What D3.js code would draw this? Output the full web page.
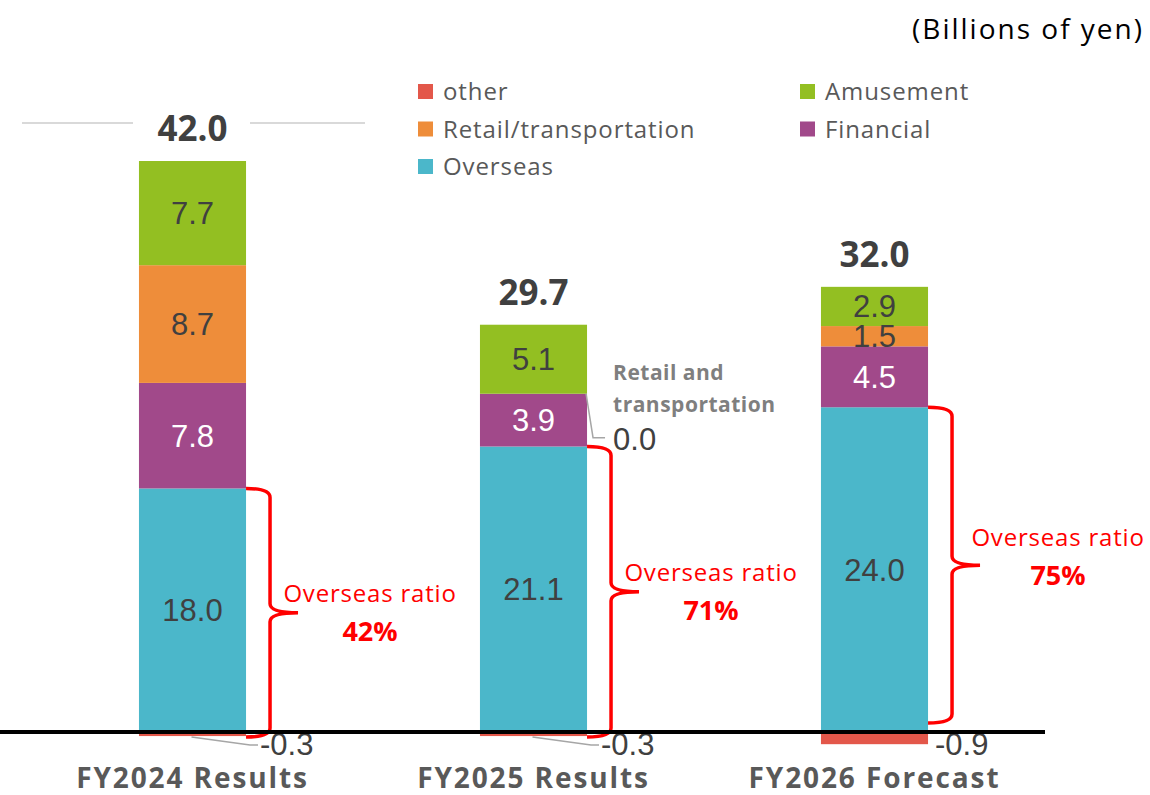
<!DOCTYPE html>
<html>
<head>
<meta charset="utf-8">
<script src="https://cdn.jsdelivr.net/npm/d3@7"></script>
<style>
  html, body { margin: 0; padding: 0; background: #fff; }
  svg { display: block; }
</style>
</head>
<body>
<svg id="chart" width="1150" height="795"></svg>
<script>
// data (billions of yen)
const categories = ["FY2024 Results", "FY2025 Results", "FY2026 Forecast"];
const overseas = [18.0, 21.1, 24.0];
const financial = [7.8, 3.9, 4.5];
const retail = [8.7, 0.0, 1.5];
const amusement = [7.7, 5.1, 2.9];
const other = [-0.3, -0.3, -0.9];
const totals = ["42.0", "29.7", "32.0"];
const ratios = ["42%", "71%", "75%"];

const seriesKeys = ["overseas", "financial", "retail", "amusement", "other"];
const seriesNames = {
    other: "other", retail: "Retail/transportation", overseas: "Overseas",
    amusement: "Amusement", financial: "Financial"
};
const colors = {
    overseas: "#4BB7CA", financial: "#A1498A", retail: "#EE8D3A",
    amusement: "#93BF22", other: "#E3574A"
};

const CALIBRI = "'Open Sans', 'Noto Sans', sans-serif";
const ARIAL = "'Liberation Sans', Arial, sans-serif";

const rows = categories.map((c, i) => ({
    cat: c, overseas: overseas[i], financial: financial[i], retail: retail[i],
    amusement: amusement[i], other: other[i]
}));

const svg = d3.select("#chart");

const x = d3.scaleBand()
    .domain(categories)
    .range([22, 1045])
    .paddingInner(0.686)
    .paddingOuter(0.343);

const y = d3.scaleLinear()
    .domain([0, 42.2])
    .range([732, 161]);

const stack = d3.stack()
    .keys(seriesKeys)
    .offset(d3.stackOffsetDiverging);
const stacked = stack(rows);

// bars
const layers = svg.append("g").selectAll("g")
    .data(stacked)
    .join("g")
    .attr("fill", d => colors[d.key]);

layers.selectAll("rect")
    .data(d => d.map(v => ({ key: d.key, v0: v[0], v1: v[1], cat: v.data.cat })))
    .join("rect")
    .attr("x", d => x(d.cat))
    .attr("width", x.bandwidth())
    .attr("y", d => y(Math.max(d.v0, d.v1)))
    .attr("height", d => Math.abs(y(d.v0) - y(d.v1)));

// labels inside the bars
stacked.forEach(layer => {
    if (layer.key === "other") return;
    layer.forEach((v, i) => {
        const val = v[1] - v[0];
        if (val <= 0) return;
        svg.append("text")
            .attr("x", x(categories[i]) + x.bandwidth() / 2)
            .attr("y", (y(v[0]) + y(v[1])) / 2 + 11)
            .attr("text-anchor", "middle")
            .attr("font-family", ARIAL)
            .attr("font-size", 31)
            .attr("fill", layer.key === "financial" ? "#ffffff" : "#404040")
            .text(val.toFixed(1));
    });
});

// negative "other" labels with leader lines
other.forEach((v, i) => {
    const bx = x(categories[i]);
    const bw = x.bandwidth();
    if (i < 2) {
        svg.append("polyline")
            .attr("points", `${bx + bw / 2 - 1},${y(v) + 1} ${bx + bw + 4},${y(v) + 9} ${bx + bw + 12},${y(v) + 9}`)
            .attr("fill", "none")
            .attr("stroke", "#a6a6a6")
            .attr("stroke-width", 1.5);
    }
    svg.append("text")
        .attr("x", bx + bw + (i < 2 ? 14 : 7))
        .attr("y", 755)
        .attr("font-family", ARIAL)
        .attr("font-size", 31)
        .attr("fill", "#404040")
        .text(v.toFixed(1));
});

// FY2025 retail = 0.0 callout
{
    const bx = x(categories[1]) + x.bandwidth();
    const yTop = y(overseas[1] + financial[1]);
    svg.append("polyline")
        .attr("points", `${bx - 1},${yTop} ${bx + 6},${yTop + 44} ${bx + 18},${yTop + 44}`)
        .attr("fill", "none")
        .attr("stroke", "#a6a6a6")
        .attr("stroke-width", 1.5);
    svg.append("text")
        .attr("x", bx + 26)
        .attr("y", yTop + 56)
        .attr("font-family", ARIAL)
        .attr("font-size", 31)
        .attr("fill", "#404040")
        .text(retail[1].toFixed(1));
    const note = svg.append("text")
        .attr("font-family", CALIBRI)
        .attr("font-weight", "bold")
        .attr("font-size", 21)
        .attr("letter-spacing", 0.5)
        .attr("fill", "#7f7f7f");
    note.append("tspan").attr("x", bx + 26).attr("y", 380).text("Retail and");
    note.append("tspan").attr("x", bx + 26).attr("y", 412).text("transportation");
}

// totals above bars
totals.forEach((t, i) => {
    const top = y(overseas[i] + financial[i] + retail[i] + amusement[i]);
    svg.append("text")
        .attr("x", x(categories[i]) + x.bandwidth() / 2)
        .attr("y", top - 20)
        .attr("text-anchor", "middle")
        .attr("font-family", CALIBRI)
        .attr("font-weight", "bold")
        .attr("font-size", 35)
        .attr("fill", "#404040")
        .text(t);
});

// the faint rules either side of the first total
svg.append("line").attr("x1", 22).attr("x2", 133).attr("y1", 123).attr("y2", 123)
    .attr("stroke", "#d9d9d9").attr("stroke-width", 2);
svg.append("line").attr("x1", 250).attr("x2", 365).attr("y1", 123).attr("y2", 123)
    .attr("stroke", "#d9d9d9").attr("stroke-width", 2);

// overseas ratio braces
const braceBottom = [y(0) + 5, y(0) + 5, y(0) - 9];
const labelShift = [0, 0, -8];
ratios.forEach((r, i) => {
    const x0 = x(categories[i]) + x.bandwidth();
    const xv = x0 + 24;
    const tip = xv + 28;
    const top = y(overseas[i]);
    const bot = braceBottom[i];
    const mid = (top + bot) / 2;
    const k = 9;
    const p = d3.path();
    p.moveTo(x0, top);
    p.quadraticCurveTo(xv, top, xv, top + k);
    p.lineTo(xv, mid - k);
    p.quadraticCurveTo(xv, mid, tip, mid);
    p.quadraticCurveTo(xv, mid, xv, mid + k);
    p.lineTo(xv, bot - k);
    p.quadraticCurveTo(xv, bot, x0, bot);
    svg.append("path")
        .attr("d", p.toString())
        .attr("fill", "none")
        .attr("stroke", "#ff0000")
        .attr("stroke-width", 3.5);

    const cx = tip + 72 + (i === 2 ? 6 : 0);
    svg.append("text")
        .attr("x", cx)
        .attr("y", mid - 11 + labelShift[i])
        .attr("text-anchor", "middle")
        .attr("font-family", CALIBRI)
        .attr("font-size", 24)
        .attr("letter-spacing", 0.8)
        .attr("fill", "#ff0000")
        .text("Overseas ratio");
    svg.append("text")
        .attr("x", cx)
        .attr("y", mid + 28 + labelShift[i])
        .attr("text-anchor", "middle")
        .attr("font-family", CALIBRI)
        .attr("font-weight", "bold")
        .attr("font-size", 27)
        .attr("fill", "#ff0000")
        .text(r);
});

// zero baseline, drawn over the labels
svg.append("line")
    .attr("x1", 0).attr("x2", 1045)
    .attr("y1", y(0)).attr("y2", y(0))
    .attr("stroke", "#000").attr("stroke-width", 4);

// category axis
const xAxis = svg.append("g")
    .attr("transform", "translate(0,788)")
    .call(d3.axisBottom(x).tickSize(0).tickPadding(0));
xAxis.select(".domain").remove();
xAxis.selectAll("text")
    .attr("dy", 0)
    .attr("font-family", CALIBRI)
    .attr("font-weight", "bold")
    .attr("font-size", 28)
    .attr("letter-spacing", 1.9)
    .attr("fill", "#595959");

// legend
const legendItems = [
    { key: "other", col: 0, row: 0 },
    { key: "retail", col: 0, row: 1 },
    { key: "overseas", col: 0, row: 2 },
    { key: "amusement", col: 1, row: 0 },
    { key: "financial", col: 1, row: 1 }
];
const legend = svg.append("g").attr("transform", "translate(418,84)");
const li = legend.selectAll("g")
    .data(legendItems)
    .join("g")
    .attr("transform", d => `translate(${d.col * 382},${d.row * 37.5})`);
li.append("rect")
    .attr("width", 15).attr("height", 15)
    .attr("fill", d => colors[d.key]);
li.append("text")
    .attr("x", 25).attr("y", 16)
    .attr("font-family", CALIBRI)
    .attr("font-size", 24)
    .attr("letter-spacing", 0.9)
    .attr("fill", "#595959")
    .text(d => seriesNames[d.key]);

// unit note
svg.append("text")
    .attr("x", 1144).attr("y", 39)
    .attr("text-anchor", "end")
    .attr("font-family", CALIBRI)
    .attr("font-size", 28)
    .attr("letter-spacing", 2)
    .attr("fill", "#000")
    .text("(Billions of yen)");
</script>
</body>
</html>
